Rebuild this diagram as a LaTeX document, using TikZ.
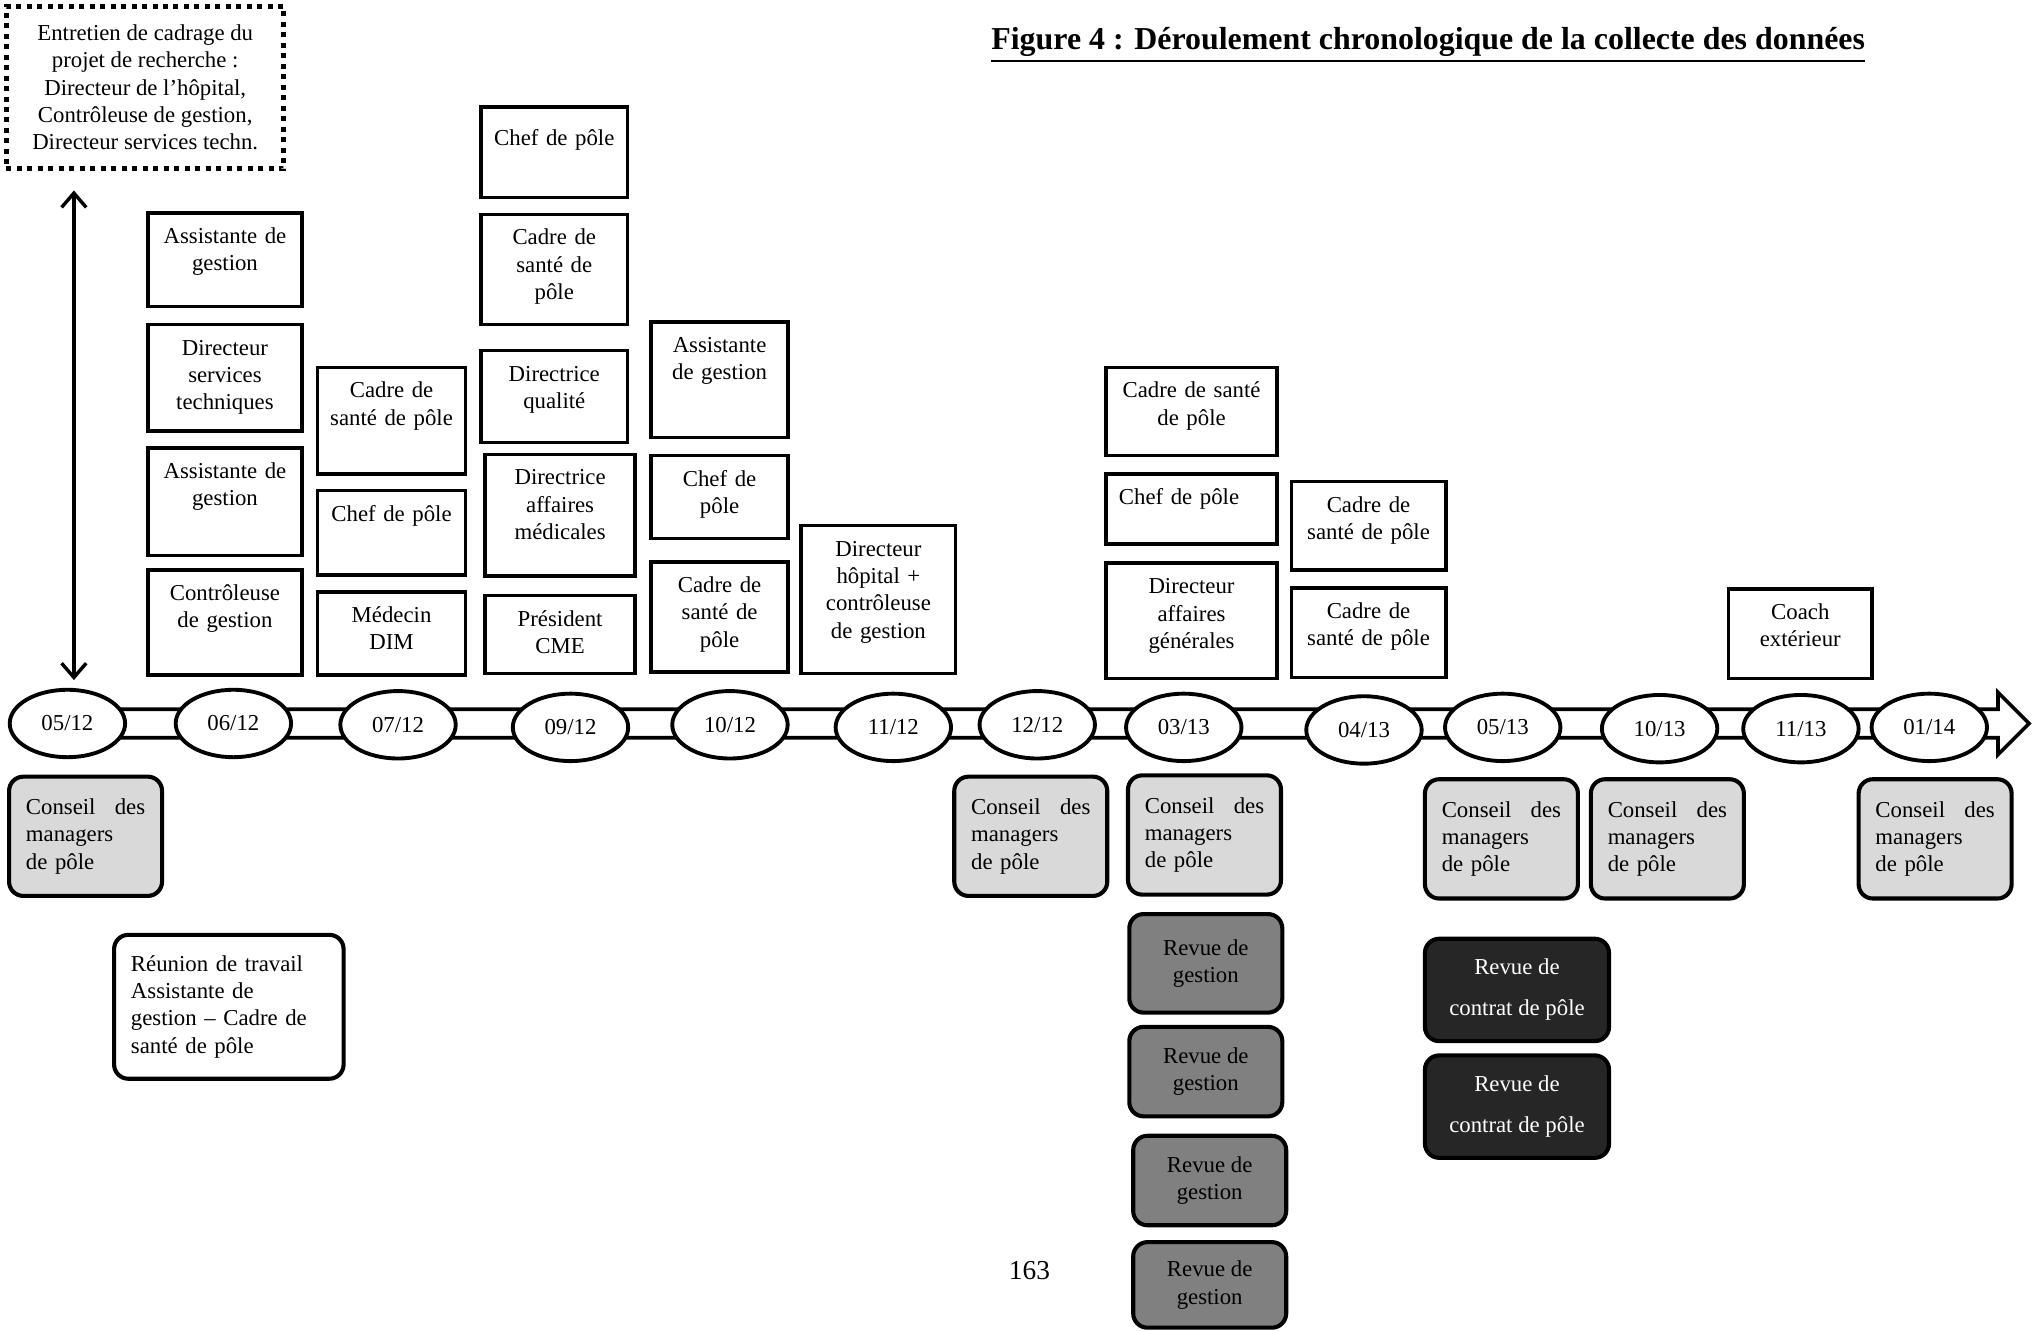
\documentclass[tikz,border=0pt]{standalone}
\usepackage{fontspec}
\setmainfont{Liberation Serif}
\usepackage{tikz}
\usetikzlibrary{arrows.meta}
\usetikzlibrary{shapes.geometric}
\definecolor{lgray}{gray}{0.85}
\definecolor{mgray}{gray}{0.5}
\definecolor{dgray}{gray}{0.15}
\newcommand{\thickul}[1]{\vtop{\hbox{#1}\kern1.5pt\hrule height 1.1pt}}
\tikzset{role/.style = {draw, line width = 1.6pt, fill = white, anchor = north, align = center, inner xsep = 0.5mm, inner ysep = 1mm, text height = 3.7mm, text depth = (#1)*0.2mm-5.7mm}}
\tikzset{date/.style = {draw, ellipse, line width = 1.7pt, fill = white, minimum width = 17.8mm, minimum height = 10.4mm, inner sep = 0}}
\tikzset{meeting/.style = {draw, rounded corners = 2.2mm, line width = 1.8pt, align = left, inner xsep = 2.6mm, text width = 18.4mm, minimum height = 18.4mm}}
\tikzset{review/.style = {draw, rounded corners = 2.2mm, line width = 1.8pt, fill = mgray, align = center, minimum width = 23.6mm}}
\tikzset{contract/.style = {draw, rounded corners = 2.2mm, line width = 1.8pt, fill = dgray, text = white, align = center, minimum width = 28.4mm, minimum height = 15.8mm}}
\tikzset{dblarrow/.style = {line width = 1.5pt, {Straight Barb[length=2.2mm,width=3.8mm]}-{Straight Barb[length=2.2mm,width=3.8mm]}}}

\begin{document}
\begin{tikzpicture}[x=0.2mm, y=-0.2mm]
  \useasboundingbox (0,0) rectangle (1568,1026);
  \node[font=\fontsize{14}{16}\selectfont\bfseries, anchor=base] (title) at (1101.5,38) {\thickul{Figure 4 : Déroulement chronologique de la collecte des données}};
  \node[draw, line width=2.2pt, dash pattern=on 2.2pt off 2.4pt, minimum width=42.8mm, minimum height=25mm, align=center] (cadrage) at (112,67.5)
    {Entretien de cadrage du\\projet de recherche :\\Directeur de l'hôpital,\\Contrôleuse de gestion,\\Directeur services techn.};
  % time line
  \draw[line width=1.6pt, fill=white] (60,547) -- (1541,547) -- (1541,534) -- (1565,558) -- (1541,582) -- (1541,569) -- (60,569) -- cycle;
  \foreach \x/\y/\m/\a in {52/558/05/12, 180/558/06/12, 307/559/07/12, 440/561/09/12, 563/559/10/12, 689/561/11/12, 800/559/12/12,
                           913/561/03/13, 1052/563/04/13, 1159/561/05/13, 1280/562/10/13, 1389/562/11/13, 1488/561/01/14} {
    \node[date] (d\m\a) at (\x,\y) {\m/\a};
  }
  \draw[dblarrow, shorten <=3mm, shorten >=1.2mm] ([xshift=1mm]d0512.north |- cadrage.south) -- ([xshift=1mm]d0512.north);
  % interviews
  \foreach \t/\h/\n/\s in {163/72/a/{Assistante de\\gestion}, 249/82/b/{Directeur\\services\\techniques}, 344/83/c/{Assistante de\\gestion}, 438/81/d/{Contrôleuse\\de gestion}} {
    \node[role=\h, text width=22.8mm] (r0612\n) at (173.5,\t) {\s};
  }
  \foreach \t/\h/\n/\s in {282/82/a/{Cadre de\\santé de pôle}, 377/65/b/{Chef de pôle}, 455/64/c/{Médecin\\DIM}} {
    \node[role=\h, text width=21.8mm] (r0712\n) at (302,\t) {\s};
  }
  \node[role=69, text width=21.6mm, text height=4.9mm, text depth=7.1mm] (r0912a) at (427.5,81) {Chef de pôle};
  \foreach \t/\h/\n/\s in {164/85/b/{Cadre de\\santé de\\pôle}, 269/71/c/{Directrice\\qualité}} {
    \node[role=\h, text width=21.6mm] (r0912\n) at (427.5,\t) {\s};
  }
  \foreach \t/\h/\n/\s in {349/94/d/{Directrice\\affaires\\médicales}, 458/60/e/{Président\\CME}} {
    \node[role=\h, text width=22.2mm] (r0912\n) at (432,\t) {\s};
  }
  \foreach \t/\h/\n/\s in {247/89/a/{Assistante\\de gestion}, 350/64/b/{Chef de\\pôle}, 432/85/c/{Cadre de\\santé de\\pôle}} {
    \node[role=\h, text width=20.2mm] (r1012\n) at (555,\t) {\s};
  }
  \node[role=114, text width=22.8mm] (r1112a) at (677.5,404) {Directeur\\hôpital +\\contrôleuse\\de gestion};
  \node[role=68, text width=25.4mm] (r0313a) at (919,282) {Cadre de santé\\de pôle};
  \node[role=54, text width=22.4mm, inner xsep=2mm, align=left] (r0313b) at (919,364) {Chef de pôle};
  \node[role=89, text width=25.4mm] (r0313c) at (919,433) {Directeur\\affaires\\générales};
  \foreach \t/\h/\n in {370/68/a, 452/69/b} {
    \node[role=\h, text width=22.8mm] (r0413\n) at (1055.5,\t) {Cadre de\\santé de pôle};
  }
  \node[role=69, text width=21.2mm] (r1113a) at (1388.5,453) {Coach\\extérieur};
  % meetings
  \foreach \x/\y/\n in {66/645/a, 795/645/b, 929/644/c, 1158/647/d, 1286/647/e, 1492.5/647/f} {
    \node[meeting, fill=lgray] (conseil\n) at (\x,\y) {Conseil\hfill des\\managers\\de pôle};
  }
  \node[meeting, fill=white, text width=30.2mm, inner xsep=2.6mm, minimum height=22.2mm] (reunion) at (176.5,776.5)
    {Réunion de travail\\Assistante de\\gestion – Cadre de\\santé de pôle};
  \node[review, minimum height=15.2mm] (revue1) at (930,743) {Revue de\\gestion};
  \node[review, minimum height=13.8mm] (revue2) at (930,826.5) {Revue de\\gestion};
  \node[review, minimum height=13.8mm] (revue3) at (933,910.5) {Revue de\\gestion};
  \node[review, minimum height=13.2mm] (revue4) at (933,991) {Revue de\\gestion};
  \node[contract] (contrat1) at (1170,763.5) {Revue de\\[6pt]contrat de pôle};
  \node[contract] (contrat2) at (1170,853.5) {Revue de\\[6pt]contrat de pôle};
  \node[font=\fontsize{12}{14}\selectfont] (page) at (794,980) {163};
\end{tikzpicture}
\end{document}
